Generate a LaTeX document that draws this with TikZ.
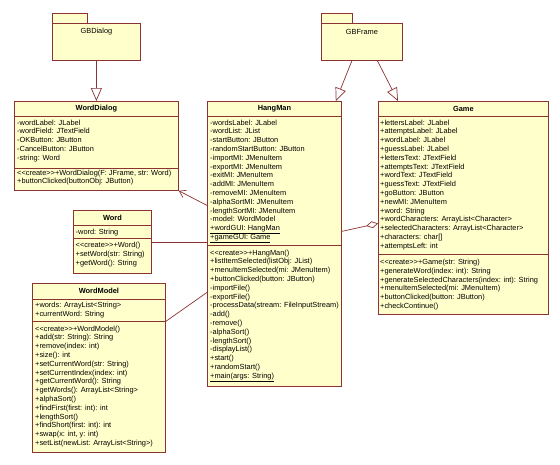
\documentclass[tikz,border=0pt]{standalone}
\usepackage{fontspec}
\setmainfont{Liberation Sans}
\usetikzlibrary{arrows.meta}
\definecolor{umlfill}{RGB}{255,255,204}
\definecolor{umlline}{RGB}{140,50,50}
\newcommand{\umlcreate}{<{}<create>{}>}
\tikzset{
  classbox/.style={draw=umlline,fill=umlfill,line width=0.8pt,inner sep=0pt,anchor=north west},
  classname/.style={font=\fontsize{7.4}{8.8}\selectfont\bfseries},
  member/.style={font=\fontsize{7.4}{8.8}\selectfont,anchor=west,inner sep=0pt,text height=5pt,text depth=1.5pt},
  pkgname/.style={font=\fontsize{7.4}{8.8}\selectfont},
  assoc/.style={draw=umlline,line width=0.7pt},
  inherit/.style={assoc,-{Triangle[open,length=13pt,width=11pt,fill=white]}},
}

\begin{document}
\begin{tikzpicture}[x=1pt,y=-1pt]
  \useasboundingbox (0,0) rectangle (560,464);
  % packages
  \node[classbox,minimum width=35pt,minimum height=10pt] (gbDialogTab) at (52,13) {};
  \node[classbox,minimum width=88pt,minimum height=37pt] (gbDialog) at (52,23) {};
  \node[pkgname] (gbDialogName) at ([yshift=-9pt]gbDialog.north) {GBDialog};
  \node[classbox,minimum width=31pt,minimum height=10pt] (gbFrameTab) at (321,13) {};
  \node[classbox,minimum width=81pt,minimum height=37pt] (gbFrame) at (321,23) {};
  \node[pkgname] (gbFrameName) at ([yshift=-9pt]gbFrame.north) {GBFrame};

  % WordDialog
  \node[classbox,minimum width=164pt,minimum height=89pt] (wordDialog) at (14,101) {};
  \node[classname] at ([yshift=-7.5pt]wordDialog.north) {WordDialog};
  \draw[umlline,line width=0.8pt] (wordDialog.west |- 0,116) -- (wordDialog.east |- 0,116)
                                  (wordDialog.west |- 0,168) -- (wordDialog.east |- 0,168);
  \foreach \m [count=\i from 0] in {-wordLabel: JLabel,-wordField: JTextField,-OKButton: JButton,
      -CancelButton: JButton,-string: Word}
    \node[member] at (17,{123.3+8.8*\i}) {\m};
  \foreach \m [count=\i from 0] in {{\umlcreate+WordDialog(F: JFrame, str: Word)},
      +buttonClicked(buttonObj: JButton)}
    \node[member] at (17,{173.3+8.8*\i}) {\m};

  % HangMan
  \node[classbox,minimum width=134pt,minimum height=285pt] (hangMan) at (207,101) {};
  \node[classname] at ([yshift=-7.5pt]hangMan.north) {HangMan};
  \draw[umlline,line width=0.8pt] (hangMan.west |- 0,116) -- (hangMan.east |- 0,116)
                                  (hangMan.west |- 0,245) -- (hangMan.east |- 0,245);
  \foreach \m [count=\i from 0] in {-wordsLabel: JLabel,-wordList: JList,-startButton: JButton,
      -randomStartButton: JButton,-importMI: JMenuItem,-exportMI: JMenuItem,-exitMI: JMenuItem,
      -addMI: JMenuItem,-removeMI: JMenuItem,-alphaSortMI: JMenuItem,-lengthSortMI: JMenuItem,
      -model: WordModel,\underline{+wordGUI: HangMan},\underline{+gameGUI: Game}}
    \node[member] at (210,{123.3+8.8*\i}) {\m};
  \foreach \m [count=\i from 0] in {\umlcreate+HangMan(),+listItemSelected(listObj: JList),
      +menuItemSelected(mi: JMenuItem),+buttonClicked(button: JButton),-importFile(),-exportFile(),
      -processData(stream: FileInputStream),-add(),-remove(),-alphaSort(),-lengthSort(),
      -displayList(),+start(),+randomStart(),\underline{+main(args: String)}}
    \node[member] at (210,{253.3+8.8*\i}) {\m};

  % Game
  \node[classbox,minimum width=170pt,minimum height=213pt] (game) at (378,101) {};
  \node[classname] at ([yshift=-7.5pt]game.north) {Game};
  \draw[umlline,line width=0.8pt] (game.west |- 0,116) -- (game.east |- 0,116)
                                  (game.west |- 0,254) -- (game.east |- 0,254);
  \foreach \m [count=\i from 0] in {+lettersLabel: JLabel,+attemptsLabel: JLabel,+wordLabel: JLabel,
      +guessLabel: JLabel,+lettersText: JTextField,+attemptsText: JTextField,+wordText: JTextField,
      +guessText: JTextField,+goButton: JButton,+newMI: JMenuItem,+word: String,
      +wordCharacters: ArrayList<Character>,+selectedCharacters: ArrayList<Character>,
      +characters: char[],+attemptsLeft: int}
    \node[member] at (380,{123.3+8.8*\i}) {\m};
  \foreach \m [count=\i from 0] in {\umlcreate+Game(str: String),+generateWord(index: int): String,
      +generateSelectedCharacters(index: int): String,+menuItemSelected(mi: JMenuItem),
      +buttonClicked(button: JButton),+checkContinue()}
    \node[member] at (380,{262.7+8.8*\i}) {\m};

  % Word
  \node[classbox,minimum width=78pt,minimum height=63pt] (word) at (73,210) {};
  \node[classname] at ([yshift=-7.5pt]word.north) {Word};
  \draw[umlline,line width=0.8pt] (word.west |- 0,225) -- (word.east |- 0,225)
                                  (word.west |- 0,238) -- (word.east |- 0,238);
  \node[member] at (75.5,232.3) {-word: String};
  \foreach \m [count=\i from 0] in {\umlcreate+Word(),+setWord(str: String),+getWord(): String}
    \node[member] at (75.5,{245.7+8.8*\i}) {\m};

  % WordModel
  \node[classbox,minimum width=133pt,minimum height=169pt] (wordModel) at (32,283) {};
  \node[classname] at ([yshift=-8pt]wordModel.north) {WordModel};
  \draw[umlline,line width=0.8pt] (wordModel.west |- 0,299) -- (wordModel.east |- 0,299)
                                  (wordModel.west |- 0,321) -- (wordModel.east |- 0,321);
  \foreach \m [count=\i from 0] in {+words: ArrayList<String>,+currentWord: String}
    \node[member] at (35,{305.7+8.8*\i}) {\m};
  \foreach \m [count=\i from 0] in {\umlcreate+WordModel(),+add(str: String): String,
      +remove(index: int),+size(): int,+setCurrentWord(str: String),+setCurrentIndex(index: int),
      +getCurrentWord(): String,+getWords(): ArrayList<String>,+alphaSort(),
      +findFirst(first: int): int,+lengthSort(),+findShort(first: int): int,
      {+swap(x: int, y: int)},+setList(newList: ArrayList<String>)}
    \node[member] at (35,{329.3+8.8*\i}) {\m};

  % connectors
  \draw[inherit] (gbDialog.south) -- (gbDialog.south |- wordDialog.north);
  \draw[inherit] ([xshift=-10pt]gbFrame.south) -- ([xshift=-6pt]hangMan.north east);
  \draw[inherit] ([xshift=15.5pt]gbFrame.south) -- ([xshift=20pt]game.north west);
  \draw[assoc,-{Straight Barb[length=6pt,width=8pt]}] ([yshift=38.5pt]hangMan.west) -- (wordDialog.south east);
  \draw[assoc] (word.east) -- (word.east -| hangMan.west);
  \draw[assoc] ([yshift=46.5pt]wordModel.east) -- ([yshift=-48.5pt]hangMan.west);
  \draw[assoc,{Diamond[open,length=12pt,width=7pt,fill=white]}-] ([yshift=-15.5pt]game.west) -- ([yshift=12.5pt]hangMan.east);
\end{tikzpicture}
\end{document}
